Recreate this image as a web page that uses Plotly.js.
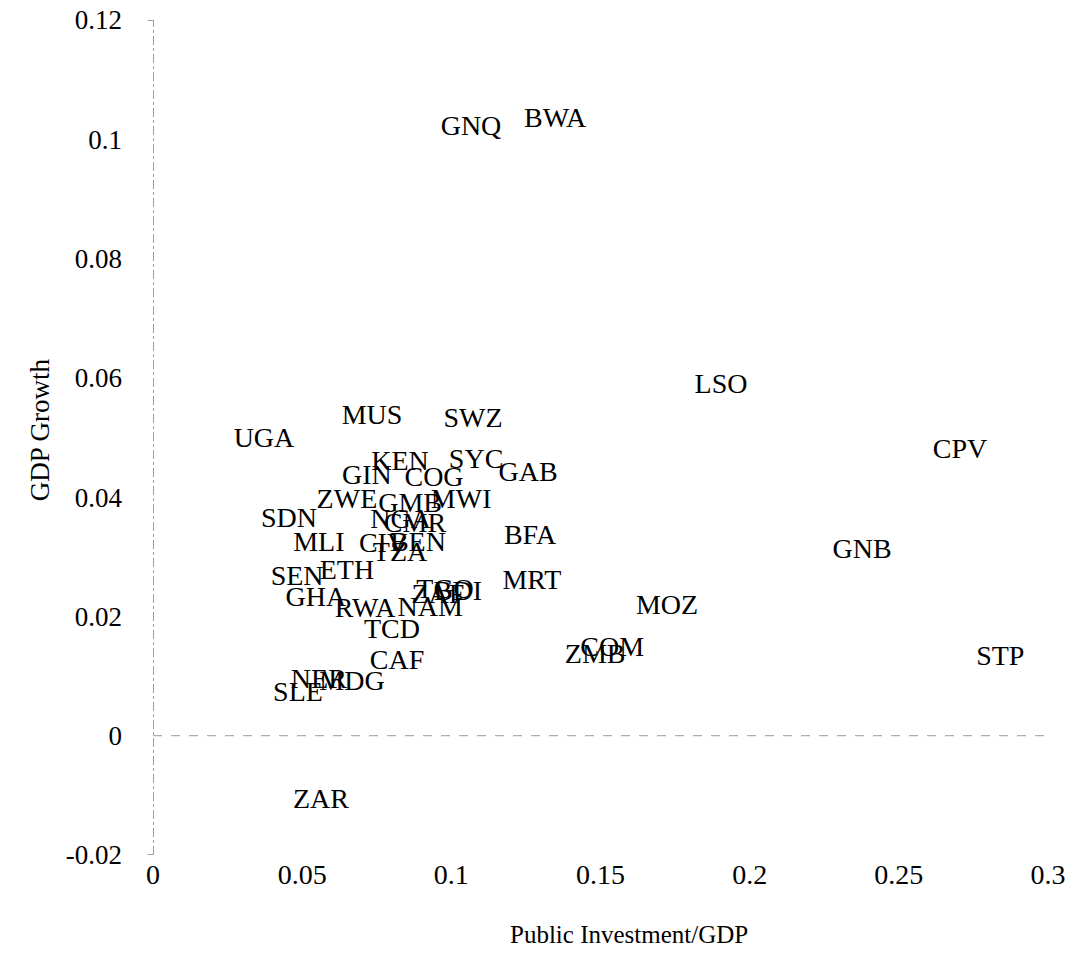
<!DOCTYPE html>
<html>
<head>
<meta charset="utf-8">
<script src="https://cdn.plot.ly/plotly-3.0.1.min.js"></script>
<style>html,body{margin:0;padding:0;background:#fff;}#chart{width:1074px;height:973px;}</style>
</head>
<body>
<div id="chart"></div>
<script>
const countries = ["GNQ","BWA","LSO","CPV","GNB","STP","MOZ","COM","ZMB","MRT","BFA","GAB","SYC","SWZ","MUS","UGA","KEN","GIN","COG","ZWE","GMB","MWI","NGA","CMR","SDN","MLI","CIV","BEN","TZA","ETH","SEN","GHA","RWA","NAM","ZAF","TGO","BDI","TCD","CAF","NER","MDG","SLE","ZAR"];
const publicInvestment = [0.1066,0.1348,0.1904,0.2705,0.2377,0.2840,0.1723,0.1539,0.1482,0.1270,0.1264,0.1257,0.1083,0.1073,0.0734,0.0372,0.0828,0.0717,0.0942,0.0650,0.0862,0.1033,0.0830,0.0878,0.0456,0.0556,0.0771,0.0888,0.0828,0.0650,0.0483,0.0546,0.0711,0.0929,0.0955,0.0979,0.1022,0.0801,0.0818,0.0556,0.0667,0.0486,0.0563];
const gdpGrowth = [0.1019,0.1032,0.0586,0.0477,0.0309,0.0131,0.0215,0.0146,0.0134,0.0258,0.0334,0.0438,0.0460,0.0529,0.0534,0.0495,0.0457,0.0433,0.0431,0.0394,0.0386,0.0394,0.0360,0.0354,0.0361,0.0321,0.0319,0.0322,0.0305,0.0275,0.0264,0.0230,0.0210,0.0213,0.0235,0.0242,0.0240,0.0176,0.0123,0.0092,0.0089,0.0070,-0.0109];
const xTicks = [0,0.05,0.1,0.15,0.2,0.25,0.3];
const xTickLabels = ["0","0.05","0.1","0.15","0.2","0.25","0.3"];
const yTicks = [-0.02,0,0.02,0.04,0.06,0.08,0.1,0.12];
const yTickLabels = ["-0.02","0","0.02","0.04","0.06","0.08","0.1","0.12"];
const xTitle = "Public Investment/GDP";
const yTitle = "GDP Growth";

const serif = "Liberation Serif, Times New Roman, serif";

const trace = {
  type: "scatter",
  mode: "text",
  x: publicInvestment,
  y: gdpGrowth,
  text: countries,
  textposition: "middle center",
  textfont: {family: serif, size: 28, color: "#000"},
  hoverinfo: "text",
  showlegend: false
};

const layout = {
  width: 1074,
  height: 973,
  margin: {l: 153, r: 26, t: 20, b: 118},
  paper_bgcolor: "#fff",
  plot_bgcolor: "#fff",
  showlegend: false,
  xaxis: {
    range: [0, 0.3],
    tickvals: xTicks,
    ticktext: xTickLabels,
    showgrid: false,
    zeroline: false,
    showline: false,
    ticks: "",
    tickfont: {family: serif, size: 28, color: "#000"},
    ticklabelstandoff: 0
  },
  yaxis: {
    range: [-0.02, 0.12],
    tickvals: yTicks,
    ticktext: yTickLabels,
    showgrid: false,
    zeroline: false,
    showline: false,
    ticks: "",
    tickfont: {family: serif, size: 27, color: "#000"},
    ticklabelstandoff: 30
  },
  annotations: [
    {text: xTitle, xref: "paper", yref: "paper", x: 0.532, y: -0.095, xanchor: "center", yanchor: "middle", showarrow: false, font: {family: serif, size: 25, color: "#000"}},
    {text: yTitle, xref: "paper", yref: "paper", x: -0.126, y: 0.509, xanchor: "center", yanchor: "middle", textangle: -90, showarrow: false, font: {family: serif, size: 27, color: "#000"}}
  ],
  shapes: [
    {type: "line", xref: "x", yref: "y", x0: 0, x1: 0, y0: -0.02, y1: 0.12, line: {color: "#444", width: 1, dash: "dashdot"}},
    {type: "line", xref: "x", yref: "y", x0: 0, x1: 0.3, y0: 0, y1: 0, line: {color: "#999", width: 1, dash: "dash"}},
    {type: "line", xref: "paper", yref: "y", x0: -0.006, x1: 0, y0: 0.12, y1: 0.12, line: {color: "#444", width: 1}},
    {type: "line", xref: "paper", yref: "y", x0: -0.006, x1: 0, y0: -0.02, y1: -0.02, line: {color: "#444", width: 1}}
  ]
};

Plotly.newPlot("chart", [trace], layout, {displayModeBar: false, staticPlot: true});
</script>
</body>
</html>
